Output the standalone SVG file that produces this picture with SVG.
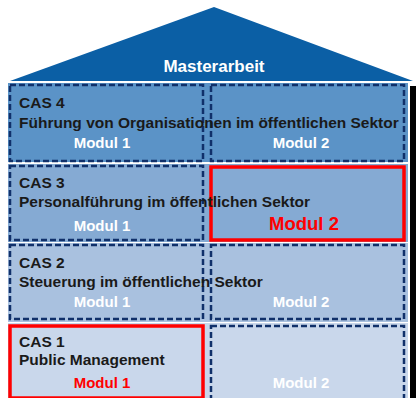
<svg xmlns="http://www.w3.org/2000/svg" width="416" height="398" viewBox="0 0 416 398">
<style>
.t{font-family:"Liberation Sans",Arial,sans-serif;font-weight:bold;}
.cas{font-size:15.5px;fill:#1a1a1a;}
.mod{font-size:15px;fill:#ffffff;text-anchor:middle;}
.red{fill:#ff0000;}
.big{font-size:18.5px;}
.dash{fill:none;stroke:#10306a;stroke-width:2.5;stroke-dasharray:6 3;}
.sel{fill:none;stroke:#ff0000;stroke-width:3.5;}
</style>
<rect width="416" height="398" fill="#ffffff"/>
<g id="roof">
<polygon points="10,81 214,7 413,81" fill="#0b5fa5"/>
<text class="t" x="214" y="72" font-size="17" fill="#ffffff" text-anchor="middle">Masterarbeit</text>
</g>
<rect x="410" y="86" width="6" height="312" fill="#000000"/>
<g id="cas4">
<rect x="8" y="83" width="400" height="79" fill="#5b93c7"/>
<rect class="dash" x="10" y="85" width="193" height="76"/>
<rect class="dash" x="211" y="85" width="193" height="76"/>
<text class="t cas" x="19" y="108">CAS 4</text>
<text class="t cas" x="19" y="128">Führung von Organisationen im öffentlichen Sektor</text>
<text class="t mod" x="102" y="148">Modul 1</text>
<text class="t mod" x="301" y="148">Modul 2</text>
</g>
<g id="cas3">
<rect x="8" y="164" width="400" height="78" fill="#85aad3"/>
<rect class="dash" x="10" y="166" width="193" height="74"/>
<rect class="sel" x="211" y="167" width="193" height="73"/>
<text class="t cas" x="19" y="188">CAS 3</text>
<text class="t cas" x="19" y="207">Personalführung im öffentlichen Sektor</text>
<text class="t mod" x="102" y="231">Modul 1</text>
<text class="t mod red big" x="304" y="230">Modul 2</text>
</g>
<g id="cas2">
<rect x="8" y="243" width="400" height="79" fill="#a9c1df"/>
<rect class="dash" x="10" y="245" width="193" height="74"/>
<rect class="dash" x="211" y="245" width="193" height="74"/>
<text class="t cas" x="19" y="268">CAS 2</text>
<text class="t cas" x="19" y="287">Steuerung im öffentlichen Sektor</text>
<text class="t mod" x="102" y="307">Modul 1</text>
<text class="t mod" x="301" y="307">Modul 2</text>
</g>
<g id="cas1">
<rect x="8" y="323" width="400" height="75" fill="#c9d7eb"/>
<rect class="sel" x="10" y="326" width="193" height="72"/>
<rect class="dash" x="211" y="326" width="193" height="74"/>
<text class="t cas" x="19" y="347">CAS 1</text>
<text class="t cas" x="19" y="365">Public Management</text>
<text class="t mod red" x="102" y="388">Modul 1</text>
<text class="t mod" x="301" y="388">Modul 2</text>
</g>
<g id="connectors"></g>
</svg>
